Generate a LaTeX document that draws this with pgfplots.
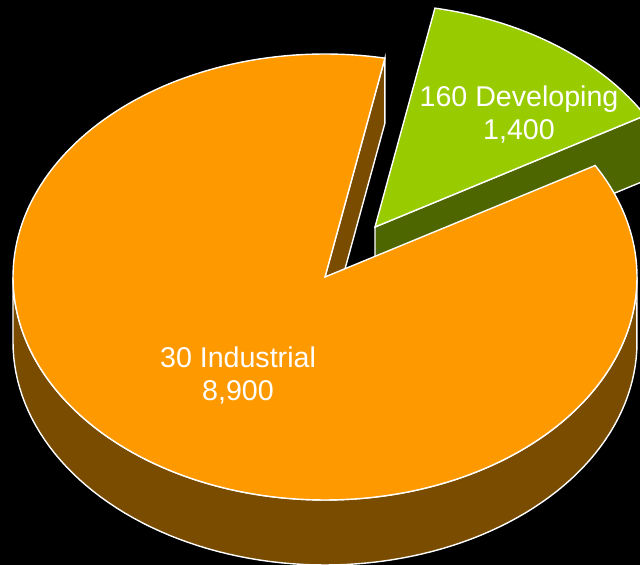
\documentclass[border=0pt]{standalone}
\usepackage{pgfplots}
\pgfplotsset{compat=1.18}
\usepackage{fontspec}
\setmainfont{Liberation Sans}
\definecolor{pieorange}{HTML}{FF9900}
\definecolor{piebrown}{HTML}{7A4C00}
\definecolor{piegreen}{HTML}{99CC00}
\definecolor{piedkgreen}{HTML}{4D6600}
% data
\def\valInd{8900}
\def\valDev{1400}
\pgfmathsetmacro\tot{\valInd+\valDev}
\pgfmathsetmacro\gstart{30}
\pgfmathsetmacro\gend{\gstart+\valDev/\tot*360}
\pgfmathsetmacro\oend{\gstart+360}
% geometry (pixel units, y up)
\def\cx{325}\def\cy{288}\def\rx{312}\def\ry{223}\def\dep{65}
\def\gx{375}\def\gy{338}
\pgfmathsetmacro\GRx{\gx+\rx*cos(\gstart)}
\pgfmathsetmacro\GRy{\gy+\ry*sin(\gstart)}
\pgfmathsetmacro\GRb{\GRy-\dep}
\pgfmathsetmacro\Gb{\gy-\dep}
\pgfmathsetmacro\ORx{\cx+\rx*cos(\gend)}
\pgfmathsetmacro\ORy{\cy+\ry*sin(\gend)}
\pgfmathsetmacro\ORb{\ORy-\dep}
\pgfmathsetmacro\Ob{\cy-\dep}
\begin{document}
\begin{tikzpicture}
\begin{axis}[
  x=0.5pt, y=0.5pt,
  xmin=0, xmax=640, ymin=0, ymax=565,
  hide axis, clip=true,
]
\fill[black] (axis cs:0,0) rectangle (axis cs:640,565);
% green slice: cut face then top
\addplot[fill=piedkgreen, draw=white, line width=0.7pt] coordinates {(\gx,\gy) (\GRx,\GRy) (\GRx,\GRb) (\gx,\Gb)} -- cycle;
\addplot[fill=piegreen, draw=white, line width=0.7pt, domain=\gstart:\gend, samples=60]
  ({\gx+\rx*cos(x)},{\gy+\ry*sin(x)}) -- (axis cs:\gx,\gy) -- cycle;
% orange slice: outer wall, cut face, top
\addplot[fill=piebrown, draw=white, line width=0.7pt, domain=180:540, samples=181]
  ({\cx+\rx*cos(x)},{\cy-\ry*abs(sin(x))-\dep*(x>360)}) -- cycle;
\addplot[fill=piebrown, draw=white, line width=0.7pt] coordinates {(\cx,\cy) (\ORx,\ORy) (\ORx,\ORb) (\cx,\Ob)} -- cycle;
\addplot[fill=pieorange, draw=white, line width=0.7pt, domain=\gend:\oend, samples=200]
  ({\cx+\rx*cos(x)},{\cy+\ry*sin(x)}) -- (axis cs:\cx,\cy) -- cycle;
\node[align=center, text=white, font=\fontsize{14.3}{16.5}\selectfont] at (axis cs:519,451) {160 Developing\\1,400};
\node[align=center, text=white, font=\fontsize{14.3}{16.5}\selectfont] at (axis cs:238,190) {30 Industrial\\8,900};
\end{axis}
\end{tikzpicture}
\end{document}
